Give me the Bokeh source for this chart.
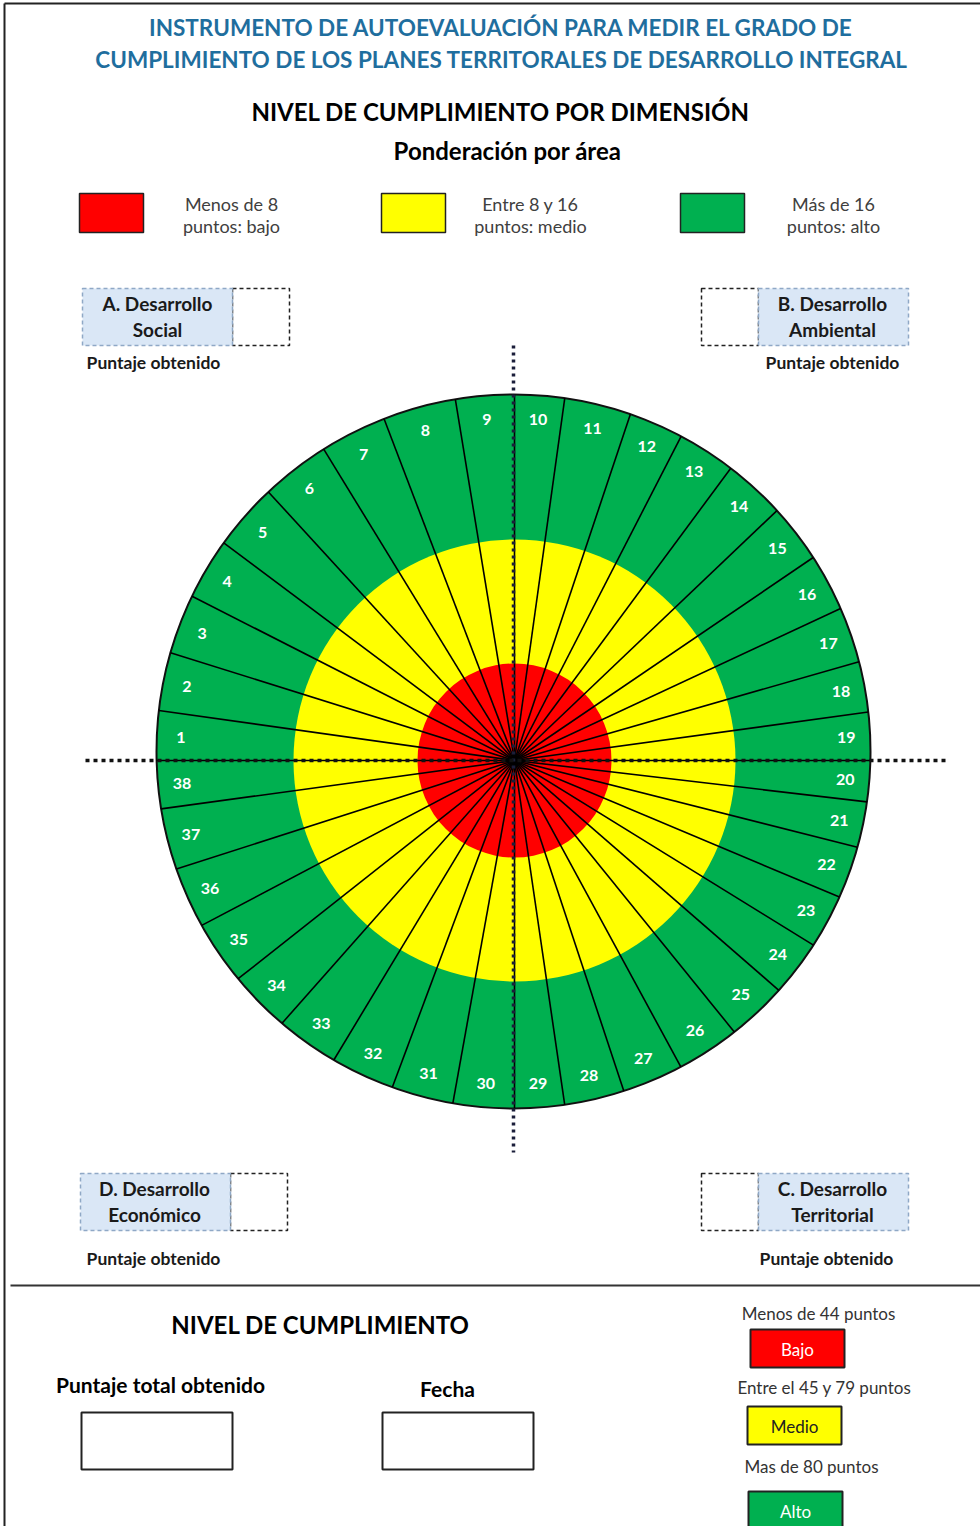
import numpy as np
from bokeh.plotting import figure
from bokeh.models import Range1d, ColumnDataSource
from bokeh.core.properties import value
from bokeh.embed import file_html
from bokeh.resources import INLINE

# ---------------- data ----------------
title_lines = ["INSTRUMENTO DE AUTOEVALUACIÓN PARA MEDIR EL GRADO DE",
               "CUMPLIMIENTO DE LOS PLANES TERRITORALES DE DESARROLLO INTEGRAL"]
subtitle = "NIVEL DE CUMPLIMIENTO POR DIMENSIÓN"
subtitle2 = "Ponderación por área"
segment_labels = [str(i) for i in range(1, 39)]
# angular width (degrees) of each numbered segment, clockwise from the left (9 o'clock)
segment_spans = [8.0, 9.4, 9.6, 9.8, 10.7, 11.0, 10.6, 11.6, 9.3,             # 1-9
                 7.9, 10.6, 8.7, 9.3, 9.9, 9.4, 9.2, 9.0, 8.2, 7.8,          # 10-19
                 6.7, 7.5, 8.6, 8.9, 9.3, 10.0, 10.5, 10.2, 10.0, 8.3,       # 20-29
                 10.2, 10.3, 10.6, 10.4, 10.2, 10.5, 10.0, 10.0, 7.8]        # 30-38
level_colors = ["#FF0000", "#FFFF00", "#00B050"]
level_legend_l1 = ["Menos de 8", "Entre 8 y 16", "Más de 16"]
level_legend_l2 = ["puntos: bajo", "puntos: medio", "puntos: alto"]
dimension_l1 = ["A. Desarrollo", "B. Desarrollo", "C. Desarrollo", "D. Desarrollo"]
dimension_l2 = ["Social", "Ambiental", "Territorial", "Económico"]
score_label = "Puntaje obtenido"
total_title = "NIVEL DE CUMPLIMIENTO"
total_fields = ["Puntaje total obtenido", "Fecha"]
total_ranges = ["Menos de 44 puntos", "Entre el 45 y 79 puntos", "Mas de 80 puntos"]
total_levels = ["Bajo", "Medio", "Alto"]
total_level_text = ["white", "#222222", "white"]

FONT = value("Lato")
BLUE_FILL = "#DAE7F6"
BLUE_DASH = "#8FA8C6"

# ---------------- figure (data units == picture pixels) ----------------
W, H = 980, 1526
p = figure(width=W, height=H, x_range=Range1d(0, W), y_range=Range1d(H, 0),
           output_backend="svg", toolbar_location=None, min_border=0)
p.axis.visible = False
p.grid.visible = False
p.outline_line_color = None
p.background_fill_color = "white"


def txt(x, y, s, size, bold=False, color="#000000", align="center"):
    p.text(x=[x], y=[y], text=[s], text_align=align, text_baseline="middle",
           text_font=FONT, text_font_size=f"{size}px",
           text_font_style="bold" if bold else "normal", text_color=color)


# page frame
p.line(x=[4, 4], y=[3, H], line_color="#222222", line_width=2)
p.line(x=[4, W], y=[3, 3], line_color="#222222", line_width=2)
p.line(x=[10, W], y=[1285, 1285], line_color="#333333", line_width=2)

# titles
txt(501, 27, title_lines[0], 22.5, True, "#1F6E9E")
txt(501, 59, title_lines[1], 22.5, True, "#1F6E9E")
txt(500, 111, subtitle, 24, True)
txt(507, 150, subtitle2, 24, True)

# level legend
leg_x = [79, 381, 680]
leg_tx = [231, 530, 833]
for i in range(3):
    p.quad(left=[leg_x[i]], right=[leg_x[i] + 64], top=[193], bottom=[232],
           fill_color=level_colors[i], line_color="#222222", line_width=1.5)
    txt(leg_tx[i], 203, level_legend_l1[i], 18, False, "#404040")
    txt(leg_tx[i], 225, level_legend_l2[i], 18, False, "#404040")

# dimension boxes: (blue_left, white_left, top, label_cx, score_cx, score_y)
boxes = [(82, 232, 288, 157, 153, 362),
         (758, 701, 288, 832, 832, 362),
         (758, 701, 1173, 832, 826, 1258),
         (80, 230, 1173, 154, 153, 1258)]
for i, (bl, wl, top, cx, sx, sy) in enumerate(boxes):
    p.quad(left=[wl], right=[wl + 57], top=[top], bottom=[top + 57],
           fill_color="white", line_color="#222222", line_width=1.5, line_dash="4 3")
    p.quad(left=[bl], right=[bl + 150], top=[top], bottom=[top + 57],
           fill_color=BLUE_FILL, line_color=BLUE_DASH, line_width=1.5, line_dash="4 3")
    txt(cx, top + 15, dimension_l1[i], 19, True, "#1a1a1a")
    txt(cx, top + 41, dimension_l2[i], 19, True, "#1a1a1a")
    txt(sx, sy, score_label, 17.5, True, "#1a1a1a")

# ---------------- wheel ----------------
OX, OY, R_OUT = 513.0, 751.0, 357.0      # outer disc
HX, HY = 514.0, 760.0                      # hub / inner discs
R_MID, R_IN = 221.0, 97.0

p.circle(x=[OX], y=[OY], radius=R_OUT, fill_color=level_colors[2],
         line_color="#111111", line_width=2)
p.circle(x=[HX], y=[HY], radius=R_MID, fill_color=level_colors[1], line_color=None)
p.circle(x=[HX], y=[HY], radius=R_IN, fill_color=level_colors[0], line_color=None)


def rim_dist(theta):
    """distance from hub to the outer rim along math angle theta (radians)."""
    ux, uy = np.cos(theta), -np.sin(theta)
    dx, dy = HX - OX, HY - OY
    b = dx * ux + dy * uy
    return -b + np.sqrt(b * b - (dx * dx + dy * dy) + R_OUT ** 2)


bounds = 180.0 - np.concatenate([[0.0], np.cumsum(segment_spans)])
edge = np.radians(bounds[:-1])
t_edge = rim_dist(edge)
p.segment(x0=[HX] * len(edge), y0=[HY] * len(edge),
          x1=HX + t_edge * np.cos(edge), y1=HY - t_edge * np.sin(edge),
          line_color="#000000", line_width=1.6)

mid = np.radians((bounds[:-1] + bounds[1:]) / 2)
t_lab = rim_dist(mid) - 24
lab = ColumnDataSource(dict(x=HX + t_lab * np.cos(mid), y=HY - t_lab * np.sin(mid),
                            t=segment_labels))
p.text(x="x", y="y", text="t", source=lab, text_align="center", text_baseline="middle",
       text_font=FONT, text_font_size="16px", text_font_style="bold", text_color="white")

# dotted axes
p.line(x=[513, 513], y=[345, 1152], line_color="#1B1E3A", line_width=3.5, line_dash="3 4")
p.line(x=[85, 946], y=[760, 760], line_color="#111111", line_width=3.5, line_dash="4 4")

# ---------------- bottom panel ----------------
txt(320, 1324, total_title, 24, True)
field_cx = [160, 447]
field_y = [1384, 1388]
field_left = [81, 382]
for i in range(2):
    txt(field_cx[i], field_y[i], total_fields[i], 21, True)
    p.quad(left=[field_left[i]], right=[field_left[i] + 151], top=[1412], bottom=[1469],
           fill_color="white", line_color="#222222", line_width=2)

rng_cx = [818, 824, 811]
rng_y = [1313, 1387, 1466]
box_l = [750, 747, 748]
box_t = [1329, 1406, 1491]
for i in range(3):
    txt(rng_cx[i], rng_y[i], total_ranges[i], 17, False, "#333333")
    p.quad(left=[box_l[i]], right=[box_l[i] + 94], top=[box_t[i]], bottom=[box_t[i] + 38],
           fill_color=level_colors[i], line_color="#222222", line_width=2)
    txt(box_l[i] + 47, box_t[i] + 20, total_levels[i], 17, False, total_level_text[i])

open("out.html", "w").write(file_html(p, INLINE))
